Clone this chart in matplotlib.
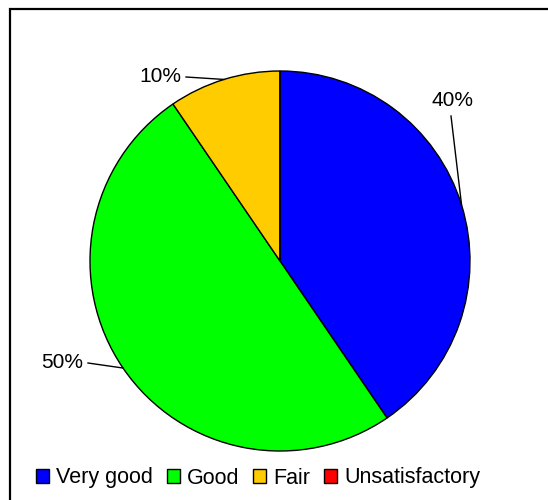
import numpy as np
import matplotlib.pyplot as plt
from matplotlib.patches import Rectangle, Patch

plt.rcParams['font.family'] = ['Liberation Sans', 'DejaVu Sans']

categories = ['Very good', 'Good', 'Fair', 'Unsatisfactory']
counts = [17, 21, 4, 0]
colors = ['#0000FF', '#00FF00', '#FFCC00', '#FF0000']

W, H = 548, 500
cx, cy, r = 280, 261, 190

fig = plt.figure(figsize=(W / 100, H / 100), dpi=100)

# frame round the chart (only top and left edges are inside the picture)
fig.patches.append(Rectangle((10 / W, -0.1), 1.2, 1 - 9 / H + 0.1, transform=fig.transFigure,
                             fill=False, edgecolor='black', lw=1.6))

ax = fig.add_axes([(cx - r) / W, (H - cy - r) / H, 2 * r / W, 2 * r / H])
wedges, _ = ax.pie(counts, colors=colors, startangle=90, counterclock=False,
                   wedgeprops=dict(edgecolor='black', linewidth=1))
ax.set_xlim(-1, 1)
ax.set_ylim(-1, 1)
ax.axis('off')

total = sum(counts)


def px(x, y):
    return (x - cx) / r, (cy - y) / r


# label text centre and where its leader line starts, in pixels
label_pos = {0: ((452, 101), (451, 116)),
             1: ((62, 363), (88, 363)),
             2: ((160, 77), (186, 77))}

for i, ((tx, ty), (lx, ly)) in label_pos.items():
    w = wedges[i]
    mid = np.deg2rad((w.theta1 + w.theta2) / 2)
    ex, ey = np.cos(mid), np.sin(mid)
    sx, sy = px(lx, ly)
    ax.plot([sx, ex], [sy, ey], color='black', lw=1, clip_on=False)
    ax.text(*px(tx, ty), f'{100 * counts[i] / total:.0f}%', ha='center', va='center',
            fontsize=15, clip_on=False)

handles = [Patch(facecolor=c, edgecolor='black', lw=1) for c in colors]
fig.legend(handles, categories, ncol=4, loc='center',
           bbox_to_anchor=(258 / W, 1 - 478 / H), frameon=False, fontsize=15.5,
           handlelength=0.6, handleheight=0.6, handletextpad=0.33,
           columnspacing=0.65, borderpad=0)

fig.savefig('out.png', dpi=100)
